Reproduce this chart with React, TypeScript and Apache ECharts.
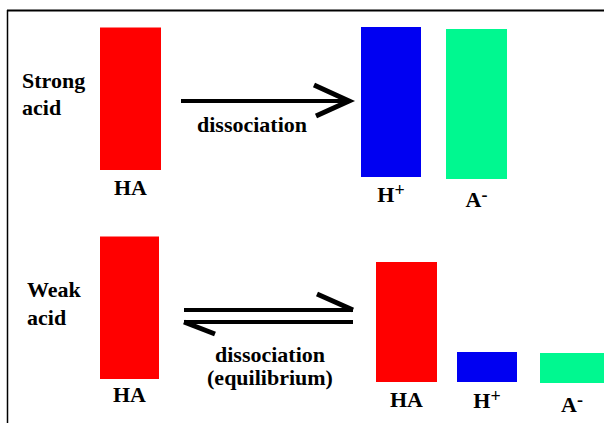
import React, { useEffect, useRef } from "react";
import * as echarts from "echarts";

// ---- data (relative concentrations) ----
const strongLabels = ["HA", "H+", "A-"];
const strongValues = [0.95, 1.0, 1.0];
const weakLabels = ["HA", "HA", "H+", "A-"];
const weakValues = [0.95, 0.8, 0.2, 0.2];

const barColors: Record<string, string> = {
  HA: "#FF0000",
  "H+": "#0000F2",
  "A-": "#00F890",
};

// ---- layout: [left, width, baseline, labelMargin] per bar ----
const strongSlots = [
  [100, 61, 170, 4],
  [361, 60, 177, 4],
  [446, 61, 179, 7],
];
const weakSlots = [
  [100, 59, 379, 2],
  [376, 61, 382, 4],
  [457, 60, 382, 5],
  [540, 64, 383, 8],
];
const UNIT_PX = 150;
const FONT = "'Times New Roman', 'Liberation Serif', serif";

function labelFormatter(label: string): string {
  if (label === "H+") return "{m|H}{s|+}";
  if (label === "A-") return "{m|A}{s|-}";
  return "{m|" + label + "}";
}

function buildOption() {
  const labels = [...strongLabels, ...weakLabels];
  const values = [...strongValues, ...weakValues];
  const slots = [...strongSlots, ...weakSlots];
  const grid: any[] = [];
  const xAxis: any[] = [];
  const yAxis: any[] = [];
  const series: any[] = [];
  slots.forEach((s, i) => {
    const [left, width, baseline, margin] = s;
    grid.push({
      left,
      width,
      top: baseline - UNIT_PX,
      height: UNIT_PX,
      containLabel: false,
      outerBoundsMode: "none",
    });
    xAxis.push({
      type: "category",
      gridIndex: i,
      data: [labels[i]],
      axisLine: { show: false },
      axisTick: { show: false },
      splitLine: { show: false },
      axisLabel: {
        margin,
        formatter: labelFormatter,
        rich: {
          m: {
            fontFamily: FONT,
            fontWeight: "bold",
            fontSize: 22,
            lineHeight: 26,
            color: "#000",
          },
          s: {
            fontFamily: FONT,
            fontWeight: "bold",
            fontSize: 18,
            lineHeight: 14,
            verticalAlign: "top",
            color: "#000",
          },
        },
      },
    });
    yAxis.push({ type: "value", gridIndex: i, min: 0, max: 1, show: false });
    series.push({
      type: "bar",
      xAxisIndex: i,
      yAxisIndex: i,
      barWidth: "100%",
      silent: true,
      data: [{ value: values[i], itemStyle: { color: barColors[labels[i]] } }],
    });
  });

  const textStyle = (text: string, extra: any = {}) => ({
    text,
    fontFamily: FONT,
    fontWeight: "bold",
    fontSize: 22,
    fill: "#000",
    ...extra,
  });

  const graphic: any[] = [
    // frame
    { type: "line", shape: { x1: 7, y1: 10.5, x2: 604, y2: 10.5 }, style: { stroke: "#000", lineWidth: 2 } },
    { type: "line", shape: { x1: 7.5, y1: 10, x2: 7.5, y2: 423 }, style: { stroke: "#000", lineWidth: 1.5 } },
    // row titles
    { type: "text", x: 22, y: 67, style: textStyle("Strong\nacid", { lineHeight: 27, verticalAlign: "top" }) },
    { type: "text", x: 27, y: 275, style: textStyle("Weak\nacid", { lineHeight: 28, verticalAlign: "top" }) },
    // strong: one-way arrow
    { type: "line", shape: { x1: 181, y1: 101, x2: 347, y2: 101 }, style: { stroke: "#000", lineWidth: 4 } },
    {
      type: "polyline",
      shape: { points: [[314, 85], [349, 101], [316, 116]] },
      style: { stroke: "#000", lineWidth: 5, fill: null, lineJoin: "miter" },
    },
    { type: "text", x: 252, y: 124.6, style: textStyle("dissociation", { align: "center", verticalAlign: "middle" }) },
    // weak: equilibrium harpoons
    { type: "line", shape: { x1: 184, y1: 310, x2: 353, y2: 310 }, style: { stroke: "#000", lineWidth: 4 } },
    { type: "line", shape: { x1: 317, y1: 294, x2: 353, y2: 310 }, style: { stroke: "#000", lineWidth: 5 } },
    { type: "line", shape: { x1: 184, y1: 322, x2: 353, y2: 322 }, style: { stroke: "#000", lineWidth: 4 } },
    { type: "line", shape: { x1: 184, y1: 322, x2: 215, y2: 334 }, style: { stroke: "#000", lineWidth: 5 } },
    {
      type: "text",
      x: 270,
      y: 342.5,
      style: textStyle("dissociation\n(equilibrium)", { align: "center", verticalAlign: "top", lineHeight: 23 }),
    },
  ];

  return {
    animation: false,
    backgroundColor: "#FFFFFF",
    grid,
    xAxis,
    yAxis,
    series,
    graphic,
  };
}

export default function App() {
  const ref = useRef<HTMLDivElement>(null);
  useEffect(() => {
    if (!ref.current) return;
    const chart = echarts.init(ref.current, undefined, { renderer: "svg" });
    chart.setOption(buildOption() as any);
    return () => chart.dispose();
  }, []);
  return (
    <div
      ref={ref}
      style={{ position: "fixed", left: 0, top: 0, width: 604, height: 423 }}
    />
  );
}
